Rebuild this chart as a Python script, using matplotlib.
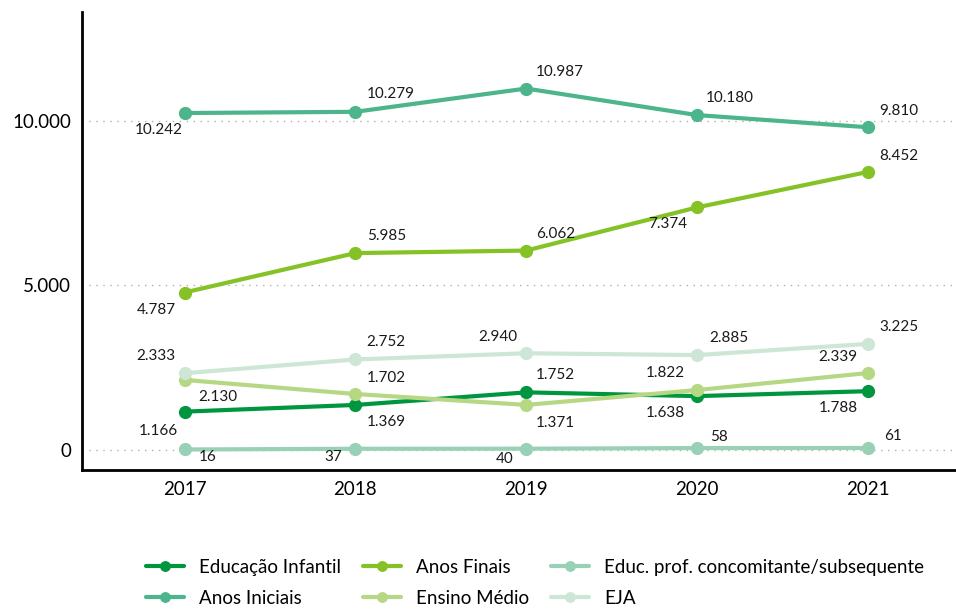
import matplotlib.pyplot as plt
import numpy as np

plt.rcParams['font.family'] = ['Lato', 'DejaVu Sans']

years = [2017, 2018, 2019, 2020, 2021]
series_names = ["Educação Infantil", "Anos Iniciais", "Anos Finais",
                "Ensino Médio", "Educ. prof. concomitante/subsequente", "EJA"]
educ_infantil = [1166, 1369, 1752, 1638, 1788]
anos_iniciais = [10242, 10279, 10987, 10180, 9810]
anos_finais = [4787, 5985, 6062, 7374, 8452]
ensino_medio = [2130, 1702, 1371, 1822, 2339]
educ_prof = [16, 37, 40, 58, 61]
eja = [2333, 2752, 2940, 2885, 3225]
yticks = [0, 5000, 10000]

colors = ["#00963f", "#4db58b", "#85c226", "#b6d884", "#99d1b6", "#cde6d5"]

# label offsets in screen pixels (dx right, dy down) for each point
offsets = [
    [(-26, 19), (31, 17), (29, -17), (-32, 17), (-30, 17)],
    [(-26, 17), (35, -18), (34, -17), (33, -17), (31, -16)],
    [(-28, 17), (31, -17), (29, -17), (-29, 17), (31, -16)],
    [(33, 17), (31, -16), (29, 18), (-32, -17), (-30, -16)],
    [(23, 8), (-22, 8), (-22, 10), (22, -11), (25, -12)],
    [(-29, -17), (31, -17), (-28, -16), (32, -17), (31, -17)],
]

def fmt(v):
    return f"{v:,}".replace(",", ".")

fig = plt.figure(figsize=(9.56, 6.12), dpi=100)
ax = fig.add_axes([82/956, 142/612, 873/956, 458/612])

data = [educ_infantil, anos_iniciais, anos_finais, ensino_medio, educ_prof, eja]
for name, vals, c, offs in zip(series_names, data, colors, offsets):
    ax.plot(years, vals, color=c, lw=3, marker='o', ms=8.5, label=name, solid_capstyle='round')
    for x, v, (dx, dy) in zip(years, vals, offs):
        ax.annotate(fmt(v), (x, v), xytext=(dx, -dy), textcoords='offset pixels',
                    ha='center', va='center', fontsize=11, color='#1a1a1a')

for t in yticks:
    ax.axhline(t, color='#b0b0b0', lw=1, ls=(0, (1, 4)), zorder=0)

ax.set_xlim(2016.40, 2021.51)
ax.set_ylim(-608, 13313)
ax.set_xticks(years)
ax.set_yticks(yticks)
ax.set_yticklabels([fmt(t) for t in yticks])
ax.tick_params(length=0, labelsize=13.5, pad=8)
for s in ['top', 'right']:
    ax.spines[s].set_visible(False)
for s in ['left', 'bottom']:
    ax.spines[s].set_linewidth(2)

fig.legend(loc='center', bbox_to_anchor=(535/956, 1 - 583/612), ncol=3, frameon=False,
           fontsize=13.5, handlelength=2, columnspacing=1.2, labelspacing=0.75,
           markerscale=0.8)

fig.savefig('out.png', dpi=100)
